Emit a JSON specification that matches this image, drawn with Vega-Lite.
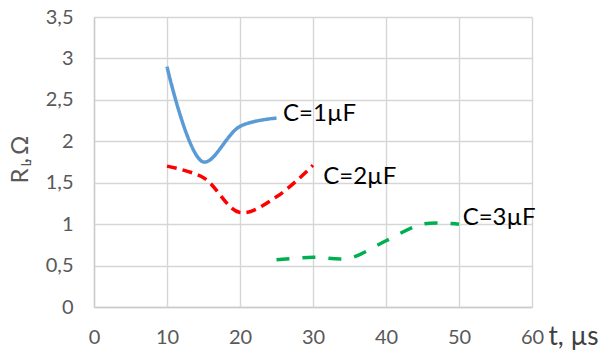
{
  "$schema": "https://vega.github.io/schema/vega-lite/v6.json",
  "width": 438,
  "height": 290,
  "autosize": "none",
  "padding": {"left": 94, "top": 17, "right": 71, "bottom": 44},
  "background": "white",
  "config": {"view": {"stroke": null}, "font": "Lato"},
  "datasets": {
    "curves": [
      {"series": "1", "t": 10, "R": 2.9},
      {"series": "1", "t": 15, "R": 1.75},
      {"series": "1", "t": 20, "R": 2.18},
      {"series": "1", "t": 25, "R": 2.28},
      {"series": "2", "t": 10, "R": 1.7},
      {"series": "2", "t": 15, "R": 1.56},
      {"series": "2", "t": 20, "R": 1.14},
      {"series": "2", "t": 25, "R": 1.33},
      {"series": "2", "t": 30, "R": 1.71},
      {"series": "3", "t": 25, "R": 0.57},
      {"series": "3", "t": 30, "R": 0.6},
      {"series": "3", "t": 35, "R": 0.59},
      {"series": "3", "t": 40, "R": 0.8},
      {"series": "3", "t": 45, "R": 1.0},
      {"series": "3", "t": 50, "R": 1.0}
    ],
    "labels": [
      {"label": "C=1µF", "t": 25.9, "R": 2.33},
      {"label": "C=2µF", "t": 31.4, "R": 1.57},
      {"label": "C=3µF", "t": 50.5, "R": 1.08}
    ]
  },
  "layer": [
    {
      "data": {"name": "curves"},
      "mark": {"type": "line", "interpolate": "catmull-rom", "strokeWidth": 3.5, "strokeCap": "butt"},
      "encoding": {
        "x": {
          "field": "t", "type": "quantitative",
          "scale": {"domain": [0, 60], "nice": false, "zero": false},
          "axis": {
            "values": [0, 10, 20, 30, 40, 50, 60],
            "grid": true, "gridColor": "#d6d6d6", "gridWidth": 1.4,
            "domainColor": "#cccccc", "domainWidth": 1.4,
            "ticks": false,
            "labelFont": "Lato", "labelFontSize": 20, "labelColor": "#595959", "labelPadding": 20,
            "labelFlush": false,
            "title": "t, µs", "titleFont": "Lato", "titleFontSize": 26, "titleFontWeight": "normal",
            "titleColor": "#404040", "titleX": 454, "titleY": 37, "titleAlign": "left",
            "titleBaseline": "alphabetic", "titleAnchor": null, "titleAngle": 0
          }
        },
        "y": {
          "field": "R", "type": "quantitative",
          "scale": {"domain": [0, 3.5], "nice": false},
          "axis": {
            "values": [0, 0.5, 1, 1.5, 2, 2.5, 3, 3.5],
            "labelExpr": "replace(format(datum.value, '.1~f'), '.', ',')",
            "grid": true, "gridColor": "#d6d6d6", "gridWidth": 1.4,
            "domainColor": "#cccccc", "domainWidth": 1.4,
            "ticks": false,
            "labelFont": "Lato", "labelFontSize": 20, "labelColor": "#595959", "labelPadding": 21,
            "labelFlush": false,
            "title": "R", "titleFont": "Lato", "titleFontSize": 24, "titleFontWeight": "normal",
            "titleColor": "#595959", "titleX": -67, "titleY": 166, "titleAngle": -90,
            "titleAlign": "left", "titleBaseline": "alphabetic", "titleAnchor": null
          }
        },
        "color": {
          "field": "series", "type": "nominal",
          "scale": {"domain": ["1", "2", "3"], "range": ["#5b9bd5", "#ff0000", "#00b050"]},
          "legend": null
        },
        "strokeDash": {
          "field": "series", "type": "nominal",
          "scale": {"domain": ["1", "2", "3"], "range": [[1, 0], [10, 6], [13, 13]]},
          "legend": null
        }
      }
    },
    {
      "data": {"name": "labels"},
      "mark": {"type": "text", "align": "left", "baseline": "middle", "font": "Lato", "fontSize": 24, "color": "#000000"},
      "encoding": {
        "x": {
          "field": "t", "type": "quantitative",
          "axis": {
            "orient": "top", "labels": false, "ticks": false, "domain": false, "grid": false,
            "title": ",\u2009Ω", "titleFont": "Lato", "titleFontSize": 24, "titleFontWeight": "normal",
            "titleColor": "#595959", "titleX": -67, "titleY": 146, "titleAngle": -90,
            "titleAlign": "left", "titleBaseline": "alphabetic", "titleAnchor": null
          }
        },
        "y": {
          "field": "R", "type": "quantitative",
          "axis": {
            "orient": "right", "labels": false, "ticks": false, "domain": false, "grid": false,
            "title": "L", "titleFont": "Lato", "titleFontSize": 13, "titleFontWeight": "normal",
            "titleColor": "#595959", "titleX": -502, "titleY": 149, "titleAngle": -90,
            "titleAlign": "left", "titleBaseline": "alphabetic", "titleAnchor": null
          }
        },
        "text": {"field": "label"}
      }
    }
  ],
  "resolve": {"axis": {"x": "independent", "y": "independent"}}
}
